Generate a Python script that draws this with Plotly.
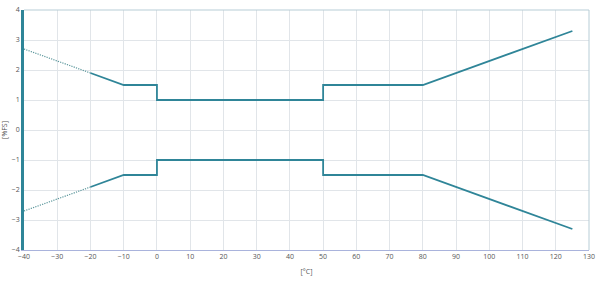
import plotly.graph_objects as go

# Data
upper_dot_x = [-40, -20]
upper_dot_y = [2.7, 1.9]
upper_x = [-20, -10, 0, 0, 50, 50, 80, 125]
upper_y = [1.9, 1.5, 1.5, 1.0, 1.0, 1.5, 1.5, 3.3]
lower_dot_x = [-40, -20]
lower_dot_y = [-2.7, -1.9]
lower_x = [-20, -10, 0, 0, 50, 50, 80, 125]
lower_y = [-1.9, -1.5, -1.5, -1.0, -1.0, -1.5, -1.5, -3.3]
x_ticks = list(range(-40, 131, 10))
y_ticks = list(range(-4, 5, 1))

LINE = "#2f8598"
fig = go.Figure()
for xs, ys in [(upper_dot_x, upper_dot_y), (lower_dot_x, lower_dot_y)]:
    fig.add_trace(go.Scatter(x=xs, y=ys, mode="lines",
                             line=dict(color="#5a969b", width=1.2, dash="1.2px,1.2px"),
                             showlegend=False, hoverinfo="skip"))
for xs, ys in [(upper_x, upper_y), (lower_x, lower_y)]:
    fig.add_trace(go.Scatter(x=xs, y=ys, mode="lines",
                             line=dict(color=LINE, width=1.8),
                             showlegend=False, hoverinfo="skip"))

fig.update_layout(
    width=604, height=288,
    margin=dict(l=24, r=15, t=10, b=38),
    paper_bgcolor="white", plot_bgcolor="white",
    font=dict(family="Open Sans", size=7, color="#555555"),
    xaxis=dict(range=[-40, 130], tickvals=x_ticks, showgrid=True,
               gridcolor="#e1e5e9", gridwidth=1, zeroline=False,
               showline=True, linecolor="#a9b3dc", linewidth=1, mirror=False,
               ticks="", tickfont=dict(size=7, color="#555555"), automargin=False,
               title=dict(text="[°C]", font=dict(size=7, color="#555555"), standoff=8)),
    yaxis=dict(range=[-4, 4], tickvals=y_ticks, showgrid=True,
               gridcolor="#e1e5e9", gridwidth=1, zeroline=False,
               showline=True, linecolor=LINE, linewidth=2.5,
               ticks="", tickfont=dict(size=7, color="#555555"), automargin=False,
               title=dict(text="[%FS]", font=dict(size=7, color="#555555"), standoff=4)),
)
# light frame on top and right
fig.add_shape(type="line", xref="paper", yref="paper", x0=0, x1=1, y0=1, y1=1,
              line=dict(color="#b7cdd6", width=1))
fig.add_shape(type="line", xref="paper", yref="paper", x0=1, x1=1, y0=0, y1=1,
              line=dict(color="#b7cdd6", width=1))

fig.write_html("out.html")
